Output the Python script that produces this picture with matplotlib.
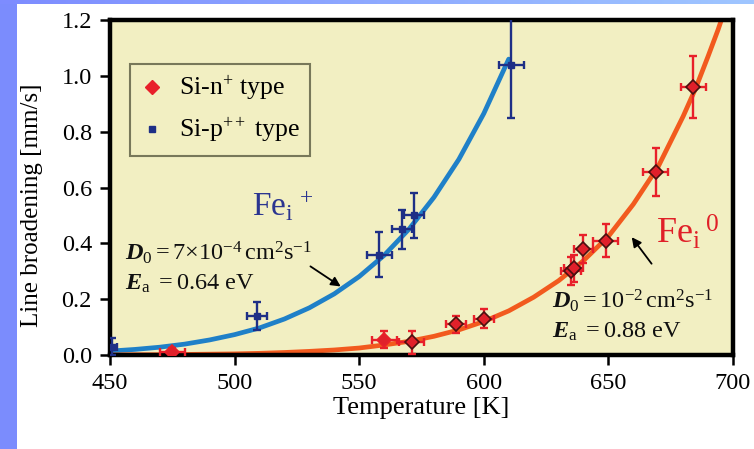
import numpy as np
import matplotlib
matplotlib.use("Agg")
import matplotlib.pyplot as plt
from matplotlib.patches import Rectangle
from matplotlib.colors import LinearSegmentedColormap

plt.rcParams['font.family'] = ['Liberation Serif', 'DejaVu Serif']
plt.rcParams['mathtext.fontset'] = 'custom'
plt.rcParams['mathtext.rm'] = 'Liberation Serif'
plt.rcParams['mathtext.it'] = 'Liberation Serif:italic'
plt.rcParams['mathtext.bf'] = 'Liberation Serif:bold'
plt.rcParams['mathtext.bfit'] = 'Liberation Serif:italic:bold'

# Si-p++ samples (Fe_i+)
p_temp = [451, 509, 558, 567, 572, 611]
p_broad = [0.03, 0.14, 0.36, 0.45, 0.50, 1.04]
p_yerr = [0.03, 0.05, 0.08, 0.07, 0.08, 0.19]
p_xerr = [2, 4, 5, 4, 4, 5]

# Si-n+ samples (Fe_i0)
n_temp = [475, 560, 571, 589, 600, 635, 636, 640, 649, 669, 684]
n_broad = [0.01, 0.055, 0.045, 0.11, 0.13, 0.30, 0.31, 0.38, 0.41, 0.655, 0.96]
n_yerr = [0.015, 0.03, 0.04, 0.03, 0.035, 0.05, 0.05, 0.05, 0.06, 0.085, 0.11]
n_xerr = [5, 5, 5, 4, 4, 4, 4, 4, 5, 5, 5]
n_edge = ['#e8202a', '#e8202a', '#4a1010', '#4a1010', '#4a1010', '#4a1010',
          '#4a1010', '#4a1010', '#4a1010', '#4a1010', '#4a1010']

# Diffusion fit curves
fit_p_temp = [450, 460, 470, 480, 490, 500, 510, 520, 530, 540, 550,
              560, 570, 580, 590, 600, 610]
fit_p_broad = [0.014, 0.020, 0.028, 0.039, 0.054, 0.073, 0.097, 0.129, 0.169,
               0.219, 0.281, 0.357, 0.451, 0.565, 0.701, 0.865, 1.06]
fit_n_temp = [450, 460, 470, 480, 490, 500, 510, 520, 530, 540, 550, 560,
              570, 580, 590, 600, 610, 620, 630, 640, 650, 660, 670, 680,
              685, 690, 694, 698]
fit_n_broad = [0.000, 0.001, 0.001, 0.002, 0.003, 0.004, 0.006, 0.009, 0.013,
               0.018, 0.025, 0.036, 0.049, 0.067, 0.090, 0.120, 0.158, 0.207,
               0.266, 0.338, 0.425, 0.540, 0.675, 0.855, 0.955, 1.070, 1.165,
               1.27]

x_ticks = [450, 500, 550, 600, 650, 700]
y_ticks = [0.0, 0.2, 0.4, 0.6, 0.8, 1.0, 1.2]

fig = plt.figure(figsize=(7.54, 4.49), dpi=100, facecolor='white')

# slide background bands
fig.add_artist(Rectangle((0, 0), 17 / 754, 1, transform=fig.transFigure,
                         facecolor='#7b8cfd', edgecolor='none', zorder=0))
band = fig.add_axes([0, 1 - 4 / 449, 1, 4 / 449])
grad = np.linspace(0, 1, 256).reshape(1, -1)
band.imshow(grad, aspect='auto',
            cmap=LinearSegmentedColormap.from_list('b', ['#7d8cff', '#9fc6ff']))
band.set_axis_off()

ax = fig.add_axes([110 / 754, 1 - 355 / 449, 623 / 754, 335 / 449])
ax.set_facecolor('#f2efc2')

ax.plot(fit_p_temp, fit_p_broad, color='#1f80c8', lw=3.4, zorder=2,
        solid_capstyle='round', solid_joinstyle='round')
ax.plot(fit_n_temp, fit_n_broad, color='#f25a1e', lw=3.4, zorder=2,
        solid_capstyle='round', solid_joinstyle='round')

ax.errorbar(p_temp, p_broad, yerr=p_yerr, xerr=p_xerr, fmt='s', ms=4,
            color='#1e2f86', ecolor='#1e2f86', elinewidth=1.7, capsize=3,
            capthick=1.7, zorder=3)
ax.errorbar(n_temp, n_broad, yerr=n_yerr, xerr=n_xerr, fmt='none',
            ecolor='#e8202a', elinewidth=1.7, capsize=3, capthick=1.7, zorder=3)
for t, b, ec in zip(n_temp, n_broad, n_edge):
    ax.plot(t, b, 'D', ms=7, mfc='#e0202a', mec=ec, mew=1.2, zorder=4)

# legend
h1, = ax.plot([], [], 'D', ms=7, color='#e8202a', ls='none')
h2, = ax.plot([], [], 's', ms=5, color='#1e2f86', ls='none')
leg = ax.legend([h1, h2], [r'Si-n$^{+}$ type', r'Si-p$^{++}$ type'],
                loc='upper left', bbox_to_anchor=(0.032, 0.869),
                borderaxespad=0, fontsize=18.5, frameon=True, fancybox=False,
                handlelength=0.9, handletextpad=0.6, borderpad=0.4,
                labelspacing=0.5)
leg.get_frame().set_edgecolor('#5a5a40')
leg.get_frame().set_linewidth(1.5)
leg.get_frame().set_facecolor('#f2efc2')

# annotations
ax.text(507, 0.502, r'$\mathrm{Fe_i}^{\,+}$', fontsize=24, color='#2b3590')
ax.text(456, 0.34, r'$\mathbfit{D}_{0} = 7{\times}10^{-4}\,\mathrm{cm^2 s^{-1}}$',
        fontsize=17.5, color='#111111')
ax.text(456, 0.233, r'$\mathbfit{E}_{\mathrm{a}}\ = 0.64\ \mathrm{eV}$',
        fontsize=17.5, color='#111111')
ax.annotate('', xy=(543.5, 0.24), xytext=(529.5, 0.323),
            arrowprops=dict(arrowstyle='-|>', color='black', lw=1.3,
                            mutation_scale=14))

ax.text(669, 0.40, r'$\mathrm{Fe_i}^{\;0}$', fontsize=26, color='#e02028')
ax.text(627.4, 0.168, r'$\mathbfit{D}_{0} = 10^{-2}\,\mathrm{cm^2 s^{-1}}$',
        fontsize=17.5, color='#111111')
ax.text(627.4, 0.061, r'$\mathbfit{E}_{\mathrm{a}}\ = 0.88\ \mathrm{eV}$',
        fontsize=17.5, color='#111111')
ax.annotate('', xy=(658.7, 0.43), xytext=(668, 0.319),
            arrowprops=dict(arrowstyle='-|>', color='black', lw=1.3,
                            mutation_scale=14))

ax.set_xlim(450, 700)
ax.set_ylim(0, 1.2)
ax.set_xticks(x_ticks)
ax.set_yticks(y_ticks)
ax.set_xticklabels([str(v) for v in x_ticks])
ax.set_yticklabels([f'{v:.1f}' for v in y_ticks])
ax.tick_params(direction='out', length=7, width=1.8, labelsize=17.5)
ax.tick_params(axis='y', pad=6)
ax.tick_params(axis='x', pad=6)
for s in ax.spines.values():
    s.set_linewidth(3.2)
    s.set_color('black')
ax.set_xlabel('Temperature [K]', fontsize=19, labelpad=2)
ax.set_ylabel('Line broadening [mm/s]', fontsize=18)
ax.yaxis.label.set_verticalalignment('center')
ax.yaxis.set_label_coords(-0.125, 0.448)

fig.savefig('out.png', dpi=100, facecolor='white')
